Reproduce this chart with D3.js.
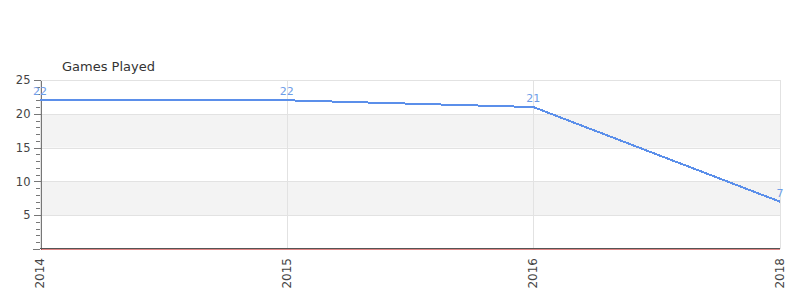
<!DOCTYPE html>
<html>
<head>
<meta charset="utf-8">
<script src="https://cdn.jsdelivr.net/npm/d3@7"></script>
<style>
  body { margin: 0; background: #fff; }
  svg { display: block; font-family: "DejaVu Sans", sans-serif; }
</style>
</head>
<body>
<div id="chart"></div>
<script>
// datos del gráfico
const years = ['2014', '2015', '2016', '2018'];
const gamesPlayed = [22, 22, 21, 7];
const yMajorTicks = [5, 10, 15, 20, 25];
const chartTitle = 'Games Played';

const width = 800, height = 300;
const margin = { top: 80, right: 20, bottom: 51, left: 40 };
const innerW = width - margin.left - margin.right;
const innerH = height - margin.top - margin.bottom;

const svg = d3.select('#chart')
  .append('svg')
  .attr('width', width)
  .attr('height', height);

const x = d3.scalePoint().domain(years).range([margin.left, margin.left + innerW]);
const y = d3.scaleLinear().domain([0, 25]).range([margin.top + innerH, margin.top]);

// bandas alternas
const bands = d3.range(0, 25, 5).map(v => [v, v + 5]);
svg.append('g')
  .selectAll('rect')
  .data(bands)
  .join('rect')
    .attr('x', margin.left)
    .attr('width', innerW)
    .attr('y', d => y(d[1]))
    .attr('height', d => y(d[0]) - y(d[1]))
    .attr('fill', (d, i) => i % 2 === 1 ? '#f3f3f3' : '#fff');

// líneas de cuadrícula horizontales
svg.append('g')
  .attr('shape-rendering', 'crispEdges')
  .selectAll('line')
  .data(yMajorTicks)
  .join('line')
    .attr('x1', margin.left)
    .attr('x2', margin.left + innerW)
    .attr('y1', d => Math.round(y(d)) + 0.5)
    .attr('y2', d => Math.round(y(d)) + 0.5)
    .attr('stroke', '#e2e2e2');

// líneas verticales
svg.append('g')
  .attr('shape-rendering', 'crispEdges')
  .selectAll('line')
  .data(years)
  .join('line')
    .attr('x1', d => Math.round(x(d)) + 0.5)
    .attr('x2', d => Math.round(x(d)) + 0.5)
    .attr('y1', margin.top)
    .attr('y2', margin.top + innerH)
    .attr('stroke', '#e2e2e2');

// eje Y
const yAxis = svg.append('g')
  .attr('transform', `translate(${margin.left + 0.5},0)`)
  .call(d3.axisLeft(y).tickValues(yMajorTicks).tickSize(7).tickSizeOuter(0))
  .call(g => g.select('.domain').attr('stroke', '#777'))
  .call(g => g.selectAll('.tick line').attr('stroke', '#777'))
  .call(g => g.selectAll('.tick text')
    .attr('fill', '#444')
    .attr('font-size', 11.5)
    .attr('font-family', '"DejaVu Sans", sans-serif')
    .attr('x', -10));
yAxis.attr('shape-rendering', 'crispEdges');

// ticks menores
svg.append('g')
  .attr('shape-rendering', 'crispEdges')
  .selectAll('line')
  .data(d3.range(0, 25).filter(v => v % 5 !== 0 || v === 0))
  .join('line')
    .attr('x1', d => margin.left - (d === 0 ? 7 : 4))
    .attr('x2', margin.left)
    .attr('y1', d => Math.round(y(d)) + 0.5)
    .attr('y2', d => Math.round(y(d)) + 0.5)
    .attr('stroke', '#777');

// eje X (línea base)
svg.append('line')
  .attr('x1', margin.left)
  .attr('x2', margin.left + innerW)
  .attr('y1', y(0) - 0.5)
  .attr('y2', y(0) - 0.5)
  .attr('stroke', '#555')
  .attr('shape-rendering', 'crispEdges');
svg.append('line')
  .attr('x1', margin.left + 1)
  .attr('x2', margin.left + innerW)
  .attr('y1', y(0) + 0.5)
  .attr('y2', y(0) + 0.5)
  .attr('stroke', '#c33')
  .attr('stroke-opacity', 0.6)
  .attr('shape-rendering', 'crispEdges');

// etiquetas del eje X rotadas
svg.append('g')
  .selectAll('text')
  .data(years)
  .join('text')
    .attr('transform', d => `translate(${x(d) + 4},${y(0) + 9}) rotate(-90)`)
    .attr('text-anchor', 'end')
    .attr('font-size', 12)
    .attr('fill', '#444')
    .text(d => d);

// línea de datos
const line = d3.line()
  .x((d, i) => x(years[i]))
  .y(d => y(d));

svg.append('path')
  .datum(gamesPlayed)
  .attr('d', line)
  .attr('fill', 'none')
  .attr('stroke', '#5b8fea')
  .attr('stroke-width', 2)
  .attr('shape-rendering', 'crispEdges');

// etiquetas de valores
svg.append('g')
  .selectAll('text')
  .data(gamesPlayed)
  .join('text')
    .attr('x', (d, i) => x(years[i]))
    .attr('y', d => y(d) - 5)
    .attr('text-anchor', 'middle')
    .attr('font-size', 11)
    .attr('fill', '#6e9de8')
    .text(d => d);

// título
svg.append('text')
  .attr('x', 62)
  .attr('y', 71)
  .attr('font-size', 13)
  .attr('fill', '#333')
  .text(chartTitle);
</script>
</body>
</html>
